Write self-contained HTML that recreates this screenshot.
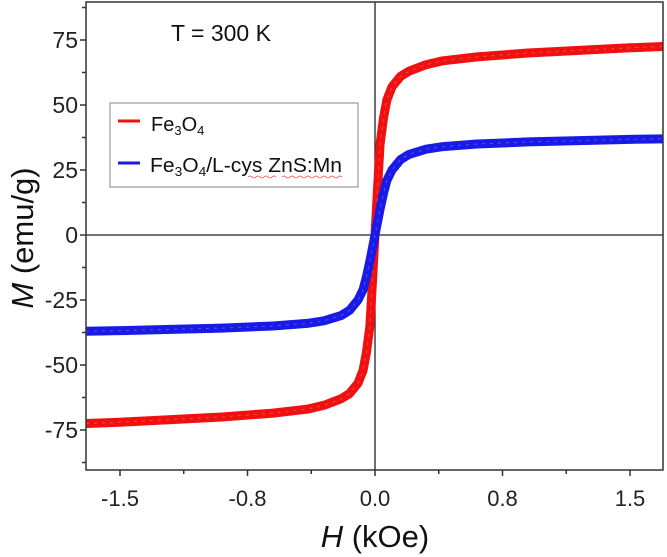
<!DOCTYPE html>
<html><head><meta charset="utf-8"><style>
html,body{margin:0;padding:0;background:#fff;}
svg{display:block;font-family:"Liberation Sans",Arial,sans-serif;}
</style></head><body>
<svg id="chart" width="667" height="557" viewBox="0 0 667 557" xmlns="http://www.w3.org/2000/svg">
<g id="plot"></g>
</svg>
<script>
const hValues = [-1.7,-1.5,-1.2,-0.9,-0.6,-0.4,-0.3,-0.2,-0.15,-0.1,-0.07,-0.05,-0.03,-0.015,0,0.015,0.03,0.05,0.07,0.1,0.15,0.2,0.3,0.4,0.6,0.9,1.2,1.5,1.7];
const fe3o4Values = [-72.5,-72,-71,-70,-68.5,-67,-65.5,-63,-61,-57,-52,-45,-35,-18,0,18,35,45,52,57,61,63,65.5,67,68.5,70,71,72,72.5];
const compositeValues = [-37,-36.8,-36.3,-35.8,-35,-34,-33,-31,-29,-25,-21,-16,-10,-5,0,5,10,16,21,25,29,31,33,34,35,35.8,36.3,36.8,37];
const xTickValues = [-1.5,-0.75,0,0.75,1.5];
const xTickLabels = ["-1.5","-0.8","0.0","0.8","1.5"];
const xMinorValues = [-1.125,-0.375,0.375,1.125];
const yTickValues = [-75,-50,-25,0,25,50,75];
const yTickLabels = ["-75","-50","-25","0","25","50","75"];
const yMinorValues = [-87.5,-62.5,-37.5,-12.5,12.5,37.5,62.5,87.5];

const L=86,R=663,T=2,B=470;
const xS = v => 375 + v*170;
const yS = v => 235 - v*2.6;
const NS="http://www.w3.org/2000/svg";
const svg=document.getElementById('chart');
function mk(tag,attrs,parent){const e=document.createElementNS(NS,tag);for(const k in attrs)e.setAttribute(k,attrs[k]);(parent||svg).appendChild(e);return e;}

const defs=mk('defs',{});
const cp=mk('clipPath',{id:'clip'},defs);
mk('rect',{x:L,y:T,width:R-L,height:B-T},cp);

let zl=mk('line',{x1:L,x2:R,y1:yS(0),y2:yS(0),stroke:'#222','stroke-width':1.3});


zl=mk('line',{x1:xS(0),x2:xS(0),y1:T,y2:B,stroke:'#222','stroke-width':1.3});



function series(vals,color,name){
  const g=mk('g',{'clip-path':'url(#clip)'});
  
  
  const pts=hValues.map((h,i)=>xS(h)+','+yS(vals[i])).join(' ');
  mk('polyline',{points:pts,fill:'none',stroke:color,'stroke-width':9,'stroke-linejoin':'round','stroke-linecap':'butt'},g);
  mk('polyline',{points:pts,fill:'none',stroke:'#fff','stroke-width':1,'stroke-opacity':0.25,'stroke-dasharray':'3 5'},g);
}
series(fe3o4Values,'#f01010','series-fe3o4');
series(compositeValues,'#1a1ae6','series-fe3o4-lcys-zns-mn');

const fr=mk('rect',{x:L,y:T,width:R-L,height:B-T,fill:'none',stroke:'#333','stroke-width':1.5});



xTickValues.forEach((v,i)=>{
  const t=mk('line',{x1:xS(v),x2:xS(v),y1:B,y2:B+6,stroke:'#333','stroke-width':1.5});
  
  
  const l=mk('text',{x:xS(v),y:B+36,'text-anchor':'middle','font-size':22,fill:'#222'});
  l.textContent=xTickLabels[i];
  
  
});
xMinorValues.forEach(v=>{
  const t=mk('line',{x1:xS(v),x2:xS(v),y1:B,y2:B+4,stroke:'#333','stroke-width':1.5});
  
  
});
yTickValues.forEach((v,i)=>{
  const t=mk('line',{x1:L-6,x2:L,y1:yS(v),y2:yS(v),stroke:'#333','stroke-width':1.5});
  
  
  const l=mk('text',{x:L-8,y:yS(v)+8,'text-anchor':'end','font-size':23,fill:'#222'});
  l.textContent=yTickLabels[i];
  
  
});
yMinorValues.forEach(v=>{
  const t=mk('line',{x1:L-4,x2:L,y1:yS(v),y2:yS(v),stroke:'#333','stroke-width':1.5});
  
  
});
</script>
<svg style="position:absolute;left:0;top:0" width="667" height="557" xmlns="http://www.w3.org/2000/svg">
<text x="375" y="547" text-anchor="middle" font-size="31" fill="#111"><tspan font-style="italic">H</tspan> (kOe)</text>
<text x="0" y="0" transform="translate(33,238) rotate(-90)" text-anchor="middle" font-size="31" fill="#111"><tspan font-style="italic">M</tspan> (emu/g)</text>
<text x="171" y="41" font-size="23" fill="#111">T = 300 K</text>
<g>
<rect x="110" y="103" width="248" height="84" fill="#fff" stroke="#999" stroke-width="1.2"/>
<line x1="118" x2="140" y1="121" y2="121" stroke="#f01010" stroke-width="3"/>
<text x="151" y="131" font-size="20" fill="#111">Fe<tspan font-size="13" dy="4">3</tspan><tspan dy="-4">O</tspan><tspan font-size="13" dy="4">4</tspan></text>
<line x1="118" x2="140" y1="163" y2="163" stroke="#1a1ae6" stroke-width="3"/>
<text x="150" y="172" font-size="20" fill="#111" textLength="192" lengthAdjust="spacingAndGlyphs">Fe<tspan font-size="13" dy="4">3</tspan><tspan dy="-4">O</tspan><tspan font-size="13" dy="4">4</tspan><tspan dy="-4">/L-cys ZnS:Mn</tspan></text>
<path d="M248 177 q2 -2 4 0 t4 0 t4 0 t4 0 t4 0 t4 0 t4 0 M282 177 q2 -2 4 0 t4 0 t4 0 t4 0 t4 0 t4 0 t4 0 t4 0 t4 0 t4 0 t4 0 t4 0 t4 0 t4 0 t4 0" fill="none" stroke="#e05050" stroke-width="0.8"/>
</g>
</svg>
</body></html>
